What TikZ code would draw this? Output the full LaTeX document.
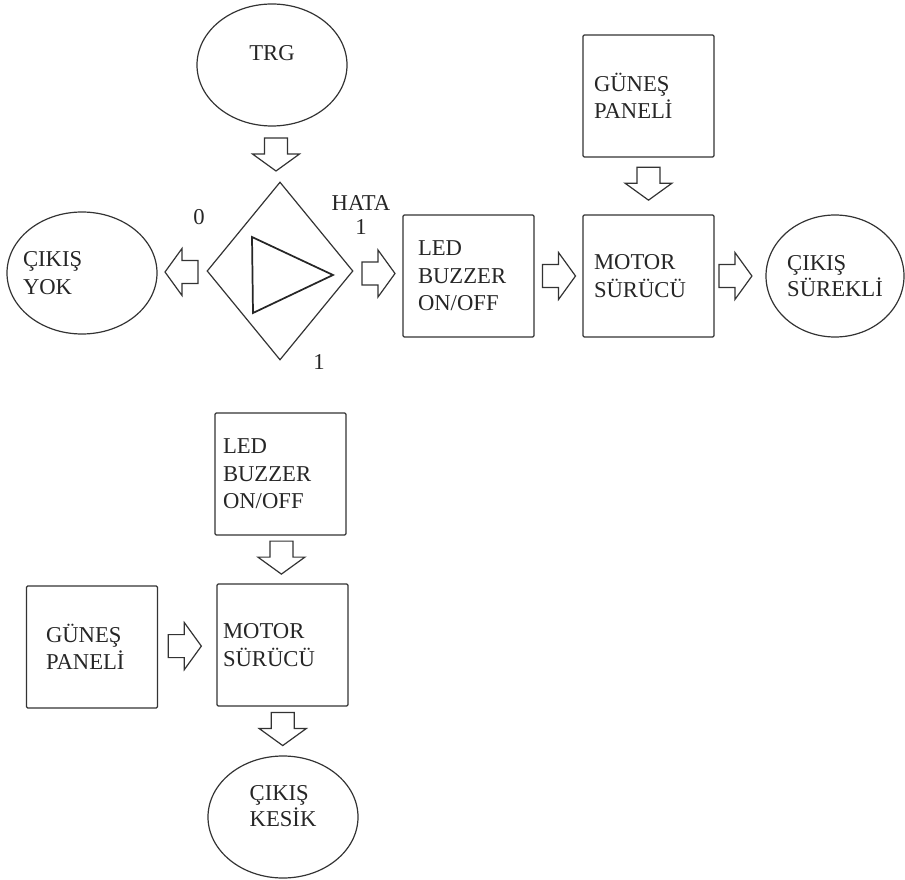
\documentclass[tikz,border=0pt]{standalone}
\usepackage{fontspec}
\setmainfont{Liberation Serif}
\usetikzlibrary{shapes.geometric,calc}

\begin{document}
\begin{tikzpicture}[
        x={(0.75pt,0pt)},
        y={(0pt,-0.75pt)},
        line width=0.9pt,
        every node/.style={font=\fontsize{17}{20.5}\selectfont, text=black!85},
        box/.style={draw=black!80, rectangle, rounded corners=1pt, minimum width=98.25pt,
            minimum height=91.5pt, inner sep=0pt, align=left, text width=#1},
        oval/.style={draw=black!80, ellipse, minimum width=112.5pt, minimum height=91.5pt,
            inner sep=0pt, align=left},
        fatarrow/.pic={\draw[draw=black!80] (-16,-11.5) -- (0,-11.5) -- (0,-23.5) -- (17,0)
            -- (0,23.5) -- (0,11.5) -- (-16,11.5) -- cycle;}
    ]
    \useasboundingbox (0,0) rectangle (905,880);

    \node[oval, text depth=18pt] (trg) at (272,65) {TRG};
    \node[draw=black!80, diamond, minimum width=109.5pt, minimum height=133.5pt, inner sep=0pt] (dec) at (280,271) {};
    \node[oval, label={[name=yoktxt, anchor=west, align=left, inner sep=0pt, xshift=12pt]west:ÇIKIŞ\\YOK}] (yok) at (82,273) {};
    \node[box=75.75pt] (led1) at (468.5,276) {LED\\BUZZER\\ON/OFF};
    \node[box=81.75pt] (mot1) at (648.5,276) {MOTOR\\SÜRÜCÜ};
    \node[box=81.75pt] (pan1) at (648.5,96) {GÜNEŞ\\PANELİ};
    \node[oval, minimum width=103.5pt, font=\fontsize{17}{19.5}\selectfont] (sur) at (835,276) {ÇIKIŞ\\SÜREKLİ};

    \node[box=86.25pt] (led2) at (280.5,474) {LED\\BUZZER\\ON/OFF};
    \node[box=89.25pt] (mot2) at (282.5,645) {MOTOR\\SÜRÜCÜ};
    \node[box=69pt] (pan2) at (92,647) {GÜNEŞ\\PANELİ};
    \node[oval, text depth=16.5pt, font=\fontsize{17}{19.5}\selectfont] (kesik) at (283,817) {ÇIKIŞ\\KESİK};

    \draw[draw=black!85, line width=1.3pt] ([shift={(-28,-34)}]dec.center) -- ([shift={(-27,42)}]dec.center)
        -- ([shift={(53,4)}]dec.center) -- cycle;

    \node (zero) at (199,217) {0};
    \node[align=center, font=\fontsize{17}{18}\selectfont] (hata) at (361,215) {HATA\\1};
    \node (one) at (319,362) {1};

    \pic (a1) [rotate=-90] at ($(trg.south)!.5!(dec.north)$) {fatarrow};
    \pic (a2) [rotate=180] at ($(dec.west)!.5!(yok.east)$) {fatarrow};
    \pic (a3) at ($(dec.east)!.5!(led1.west)$) {fatarrow};
    \pic (a4) at ($(led1.east)!.5!(mot1.west)$) {fatarrow};
    \pic (a5) [rotate=-90] at ($(pan1.south)!.45!(mot1.north)$) {fatarrow};
    \pic (a6) at ($(mot1.east)!.4!(sur.west)$) {fatarrow};
    \pic (a7) [rotate=-90] at ($(led2.south)!.45!(mot2.north)$) {fatarrow};
    \pic (a8) at ($(pan2.east)!.45!(mot2.west)$) {fatarrow};
    \pic (a9) [rotate=-90] at ($(mot2.south)!.45!(kesik.north)$) {fatarrow};
\end{tikzpicture}
\end{document}
